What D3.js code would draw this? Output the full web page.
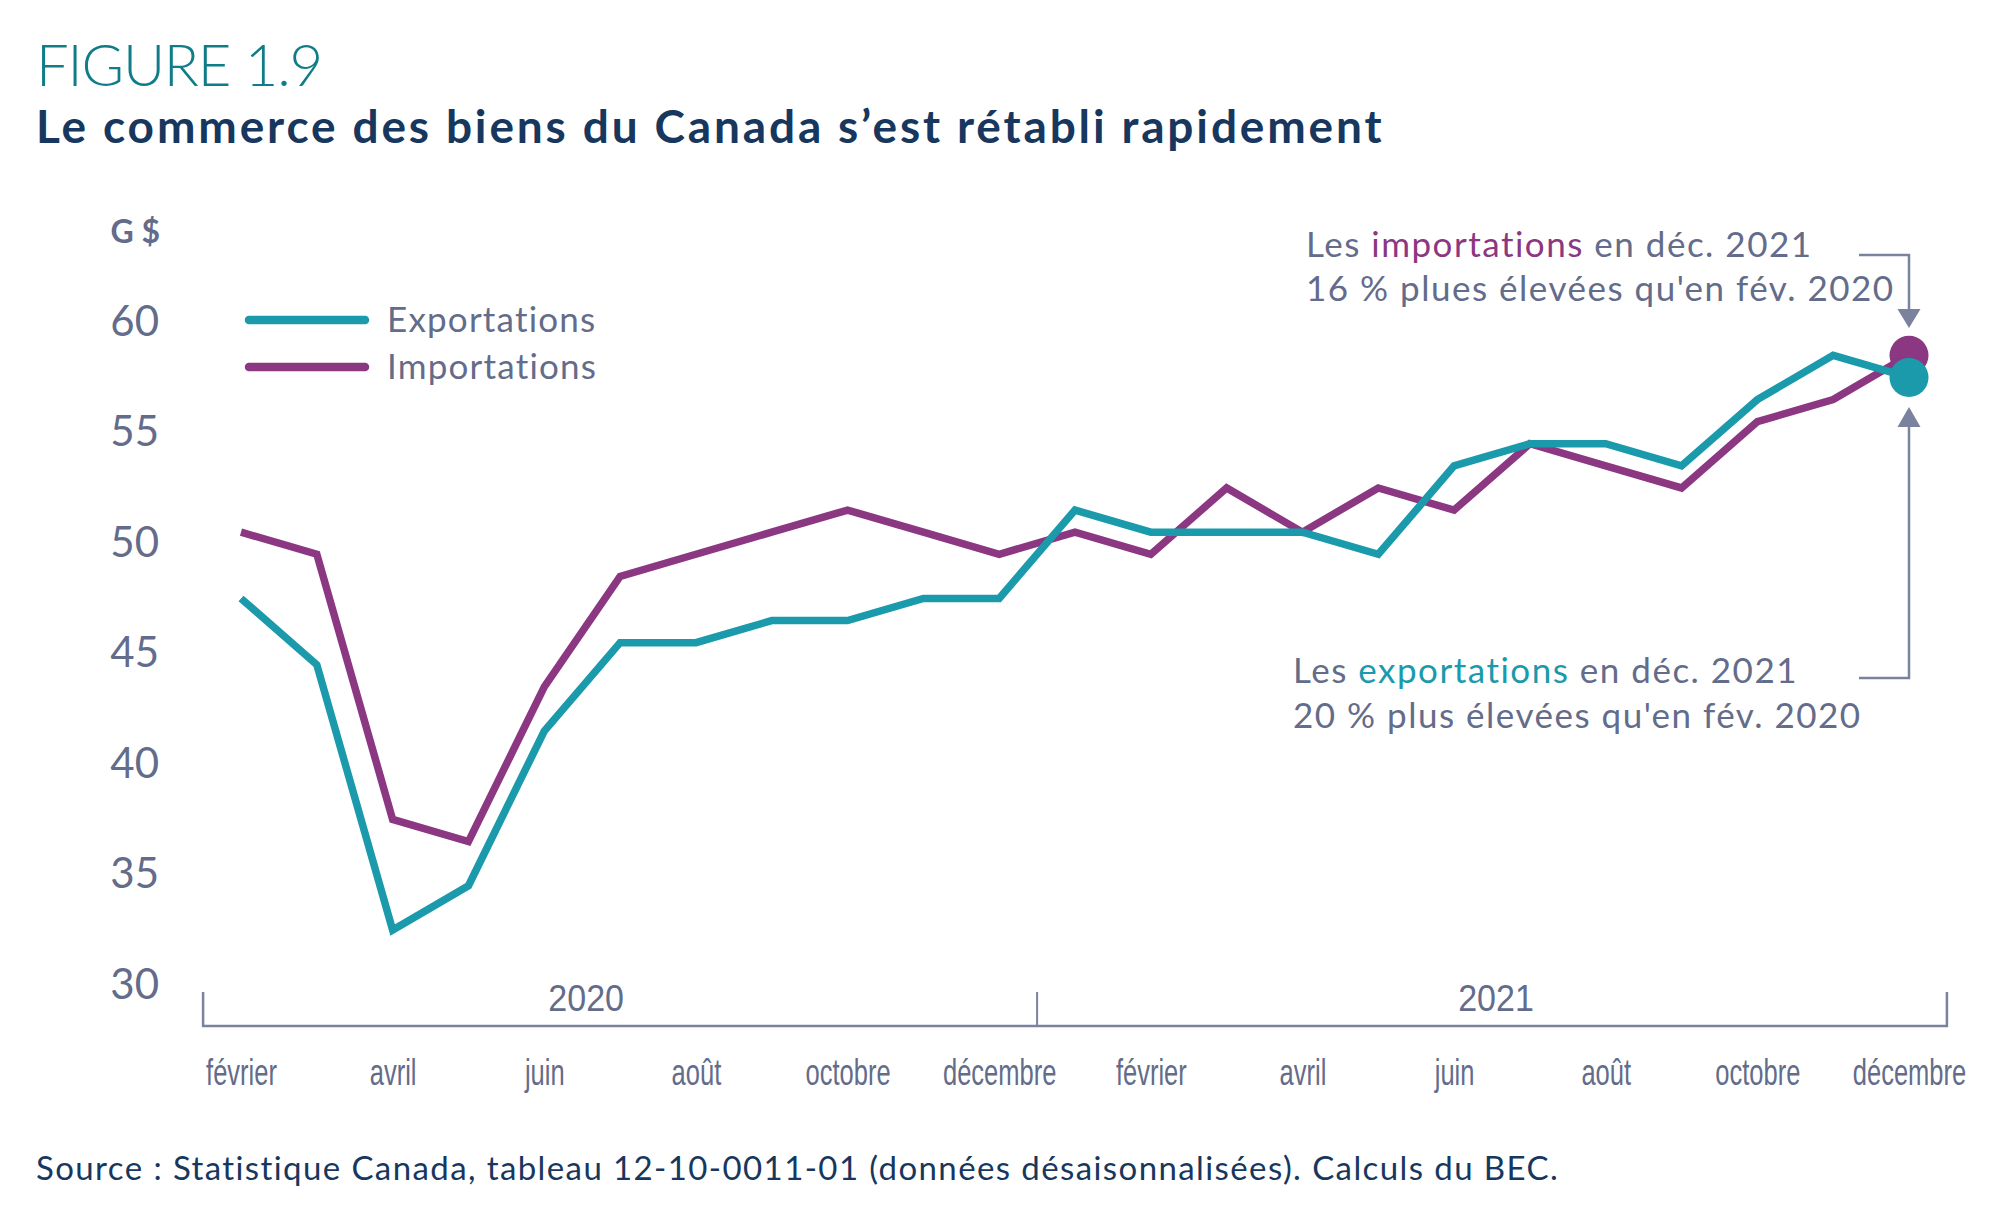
<!DOCTYPE html>
<html><head><meta charset="utf-8">
<script src="https://cdn.jsdelivr.net/npm/d3@7"></script>
<style>
html,body{margin:0;padding:0;background:#fff;}
svg{display:block;}
</style></head>
<body>
<svg id="chart" width="1990" height="1232"></svg>
<script>
// ---- data ----
const months = ["2020-02","2020-03","2020-04","2020-05","2020-06","2020-07","2020-08","2020-09","2020-10","2020-11","2020-12",
  "2021-01","2021-02","2021-03","2021-04","2021-05","2021-06","2021-07","2021-08","2021-09","2021-10","2021-11","2021-12"];
const exportations = [47.4,44.4,32.4,34.4,41.4,45.4,45.4,46.4,46.4,47.4,47.4,51.4,50.4,50.4,50.4,49.4,53.4,54.4,54.4,53.4,56.4,58.4,57.4];
const importations = [50.4,49.4,37.4,36.4,43.4,48.4,49.4,50.4,51.4,50.4,49.4,50.4,49.4,52.4,50.4,52.4,51.4,54.4,53.4,52.4,55.4,56.4,58.4];
const tickMonths = ["2020-02","2020-04","2020-06","2020-08","2020-10","2020-12","2021-02","2021-04","2021-06","2021-08","2021-10","2021-12"];
const tickLabels = ["février","avril","juin","août","octobre","décembre","février","avril","juin","août","octobre","décembre"];
const years = ["2020","2021"];
const yTicks = [30,35,40,45,50,55,60];

const TEAL = "#1a9aab", PURPLE = "#8b3781", GRAY = "#636c8a", AXIS = "#7b829e", NAVY = "#17375e";
const NARROW = "Liberation Sans Narrow, Arial Narrow, sans-serif";

const svg = d3.select("#chart");
const x = d3.scalePoint().domain(months).range([241, 1909]);
const y = d3.scaleLinear().domain([30, 60]).range([983, 320]);
const step = x.step();

// Titles
svg.append("text").attr("x", 36).attr("y", 86)
  .attr("font-family", "Lato").attr("font-weight", 300).attr("font-size", 58)
  .attr("letter-spacing", -1.2)
  .attr("fill", "#0f7d88").text("FIGURE 1.9");
svg.append("text").attr("x", 36).attr("y", 143)
  .attr("font-family", "Lato").attr("font-weight", 700).attr("font-size", 46)
  .attr("letter-spacing", 2.85)
  .attr("fill", NAVY).text("Le commerce des biens du Canada s\u2019est rétabli rapidement");

// Y axis (labels only)
const yAxis = d3.axisLeft(y).tickValues(yTicks).tickSize(0).tickPadding(0);
const gy = svg.append("g").attr("transform", "translate(159,0)").call(yAxis);
gy.select(".domain").remove();
gy.selectAll("text").attr("font-family", "Lato").attr("font-size", 42)
  .attr("fill", GRAY).attr("dy", "0.36em");
svg.append("text").attr("x", 160).attr("y", 243).attr("text-anchor", "end")
  .attr("font-family", "Lato").attr("font-weight", 700).attr("font-size", 32)
  .attr("fill", GRAY).text("G $");

// X axis bracket
const xl = x(months[0]) - step / 2, xr = x(months[months.length - 1]) + step / 2;
const xm = (x("2020-12") + x("2021-01")) / 2;
const axisTop = 992, axisY = 1026;
svg.append("path").attr("d", `M${xl},${axisTop}V${axisY}H${xr}V${axisTop}`)
  .attr("fill", "none").attr("stroke", AXIS).attr("stroke-width", 2.5);
svg.append("line").attr("x1", xm).attr("x2", xm).attr("y1", axisTop).attr("y2", axisY)
  .attr("stroke", AXIS).attr("stroke-width", 2);

years.forEach(yr => {
  const cx = (x(yr + "-06") + x(yr + "-07")) / 2 + 4;
  svg.append("text").attr("transform", `translate(${cx},1011) scale(0.92,1)`).attr("text-anchor", "middle")
    .attr("font-family", NARROW).attr("font-size", 37)
    .attr("fill", GRAY).text(yr);
});

const xAxis = d3.axisBottom(x).tickValues(tickMonths).tickSize(0).tickPadding(0)
  .tickFormat((d, i) => tickLabels[i]);
const gx = svg.append("g").attr("transform", "translate(0,1085)").call(xAxis);
gx.select(".domain").remove();
gx.selectAll("text").attr("dy", 0).attr("y", 0)
  .attr("font-family", NARROW).attr("font-size", 37)
  .attr("fill", GRAY).attr("transform", "scale(0.69,1)");

// Lines
const line = d3.line().x((d, i) => x(months[i])).y(d => y(d));
svg.append("path").datum(importations).attr("d", line)
  .attr("fill", "none").attr("stroke", PURPLE).attr("stroke-width", 7.5).attr("stroke-linejoin", "miter");
svg.append("path").datum(exportations).attr("d", line)
  .attr("fill", "none").attr("stroke", TEAL).attr("stroke-width", 7.5).attr("stroke-linejoin", "miter");

const last = months.length - 1;
svg.append("circle").attr("cx", x(months[last])).attr("cy", y(importations[last])).attr("r", 19.5).attr("fill", PURPLE);
svg.append("circle").attr("cx", x(months[last])).attr("cy", y(exportations[last])).attr("r", 19.5).attr("fill", TEAL);

// Legend
const legend = [{name: "Exportations", color: TEAL, y: 320}, {name: "Importations", color: PURPLE, y: 367}];
legend.forEach(l => {
  svg.append("line").attr("x1", 249).attr("x2", 365).attr("y1", l.y).attr("y2", l.y)
    .attr("stroke", l.color).attr("stroke-width", 8.5).attr("stroke-linecap", "round");
  svg.append("text").attr("x", 387).attr("y", l.y).attr("dy", "0.35em")
    .attr("font-family", "Lato").attr("font-size", 35).attr("letter-spacing", 1.2)
    .attr("fill", GRAY).text(l.name);
});

// Annotations
function annot(xp, y1, y2, word, color, line2) {
  const t = svg.append("text").attr("x", xp).attr("y", y1)
    .attr("font-family", "Lato").attr("font-size", 35).attr("letter-spacing", 1.5).attr("fill", GRAY);
  t.append("tspan").text("Les ");
  t.append("tspan").attr("fill", color).text(word);
  t.append("tspan").text(" en déc. 2021");
  svg.append("text").attr("x", xp).attr("y", y2)
    .attr("font-family", "Lato").attr("font-size", 35).attr("letter-spacing", 1.5).attr("fill", GRAY).text(line2);
}
annot(1306, 257, 301, "importations", PURPLE, "16 % plues élevées qu'en fév. 2020");
annot(1293, 683, 728, "exportations", TEAL, "20 % plus élevées qu'en fév. 2020");

const ax = x(months[last]);
svg.append("path").attr("d", `M1859,255H${ax}V311`).attr("fill", "none").attr("stroke", AXIS).attr("stroke-width", 2.5);
svg.append("path").attr("d", `M${ax - 11.5},309L${ax + 11.5},309L${ax},328Z`).attr("fill", AXIS);
svg.append("path").attr("d", `M1859,678H${ax}V425`).attr("fill", "none").attr("stroke", AXIS).attr("stroke-width", 2.5);
svg.append("path").attr("d", `M${ax - 11.5},427L${ax + 11.5},427L${ax},407Z`).attr("fill", AXIS);

// Source
svg.append("text").attr("x", 36).attr("y", 1180)
  .attr("font-family", "Lato").attr("font-size", 33).attr("letter-spacing", 1.4).attr("fill", NAVY)
  .text("Source : Statistique Canada, tableau 12-10-0011-01 (données désaisonnalisées). Calculs du BEC.");
</script>
</body></html>
